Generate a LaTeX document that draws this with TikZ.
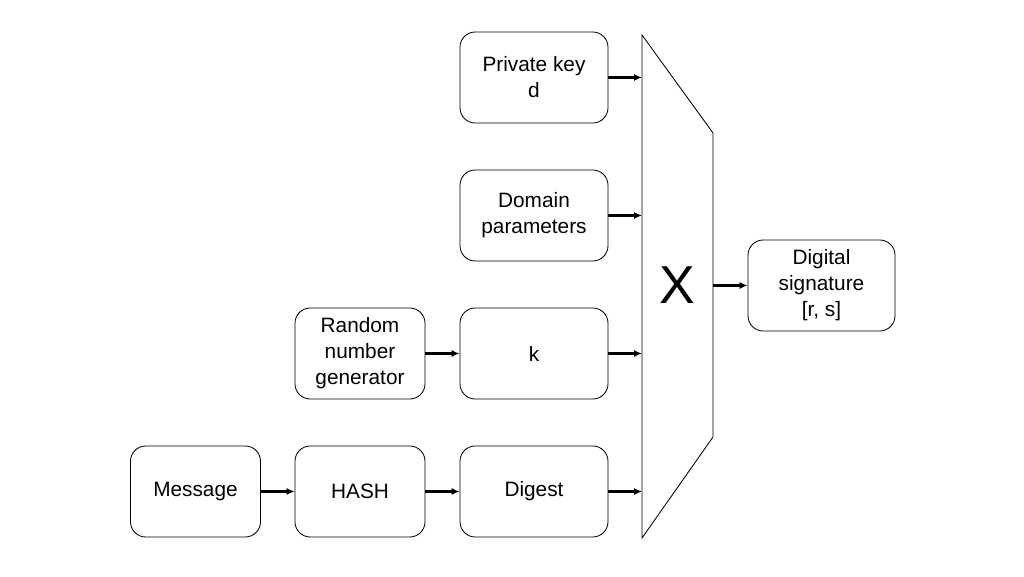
\documentclass[tikz,border=0pt]{standalone}
\usepackage{fontspec}
\setmainfont{Liberation Sans}
\usetikzlibrary{arrows.meta,positioning}

\begin{document}
\begin{tikzpicture}[
  font=\fontsize{14.8}{18.5}\selectfont,
  block/.style={draw,line width=0.6pt,rounded corners=3.8mm,align=center,minimum width=37mm,minimum height=22.75mm,inner sep=1pt},
  small/.style={block,minimum width=32.5mm},
  arr/.style={-{Latex[length=2mm,width=1.8mm]},line width=1.5pt}
]
\useasboundingbox (0,0) rectangle (25.6,14.4);
% column and row positions
\def\xa{4.8875}
\def\xb{9.0}
\def\xc{13.35}
\def\ysep{3.45}
\def\yb{2.1125}

% input blocks
\node[block] (key)    at (\xc,{\yb+3*\ysep}) {Private key\\d};
\node[block] (domain) at (\xc,{\yb+2*\ysep}) {Domain\\parameters};
\node[block] (k)      at (\xc,{\yb+\ysep})   {k};
\node[block] (digest) at (\xc,\yb)           {Digest};

\node[small] (rng)  at (\xb,{\yb+\ysep}) {Random\\number\\generator};
\node[small] (hash) at (\xb,\yb)         {HASH};
\node[small] (msg)  at (\xa,\yb)         {Message};

% the trapezoid
\coordinate (muxtl) at (16.05,13.525);
\coordinate (muxtr) at (17.825,11.075);
\coordinate (muxbr) at (17.825,3.475);
\coordinate (muxbl) at (16.05,0.95);
\draw[line width=0.6pt] (muxtl) -- (muxtr) -- (muxbr) -- (muxbl) -- cycle;
\node[font=\fontsize{38}{42}\selectfont] (x) at (16.925,7.2625) {X};

% output
\node[block,minimum width=36.75mm] (sig) at (20.5375,7.2625) {Digital\\signature\\{[r, s]}};

% connectors
\draw[arr] (msg) -- (hash);
\draw[arr] (hash) -- (digest);
\draw[arr] (rng) -- (k);
\foreach \n in {key,domain,k,digest} \draw[arr] (\n.east) -- (\n.east -| muxtl);
\draw[arr] (sig.west -| muxtr) -- (sig.west);
\end{tikzpicture}
\end{document}
